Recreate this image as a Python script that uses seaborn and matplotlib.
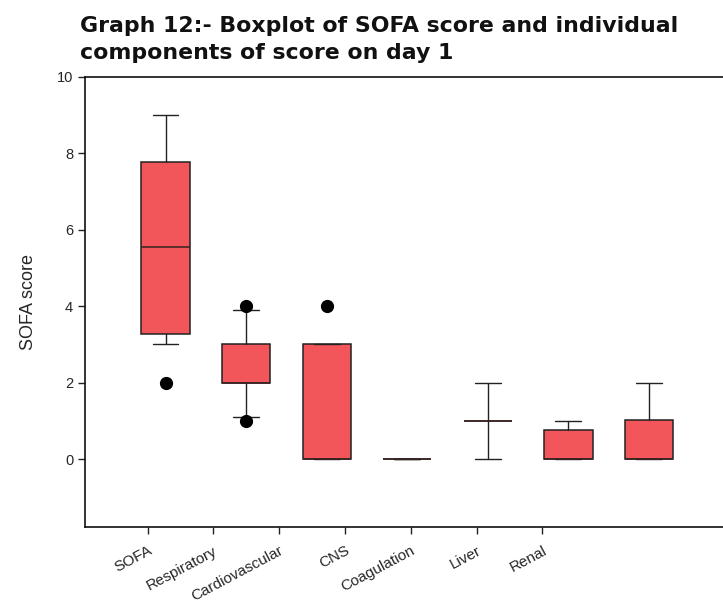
import matplotlib
matplotlib.use("Agg")
import matplotlib.pyplot as plt
import seaborn as sns
import numpy as np

categories = ["SOFA", "Respiratory", "Cardiovascular", "CNS", "Coagulation", "Liver", "Renal"]
q1 = [3.27, 2.0, 0.0, 0.0, 1.0, 0.0, 0.0]
median = [5.55, 2.0, 0.0, 0.0, 1.0, 0.0, 0.0]
q3 = [7.77, 3.0, 3.0, 0.0, 1.0, 0.76, 1.03]
whislo = [3.0, 1.1, 0.0, 0.0, 0.0, 0.0, 0.0]
whishi = [9.0, 3.9, 3.0, 0.0, 2.0, 1.0, 2.0]
fliers = [[2.0], [1.0, 4.0], [4.0], [], [], [], []]

sns.set_style("ticks")
plt.rcParams["font.family"] = ["Liberation Sans", "DejaVu Sans"]

fig = plt.figure(figsize=(7.23, 6.05), dpi=100)
ax = fig.add_axes([85/723, 1-527/605, 1-85/723, (527-77)/605])

stats = []
for i, c in enumerate(categories):
    stats.append(dict(label=c, q1=q1[i], med=median[i], q3=q3[i],
                      whislo=whislo[i], whishi=whishi[i], fliers=fliers[i]))

ax.bxp(stats, positions=np.arange(len(categories)), widths=0.6, patch_artist=True,
       capwidths=0.32,
       boxprops=dict(facecolor="#F2555A", edgecolor="#222222", linewidth=1.1),
       medianprops=dict(color="#3a2220", linewidth=1.1),
       whiskerprops=dict(color="#222222", linewidth=1.0),
       capprops=dict(color="#222222", linewidth=1.0),
       flierprops=dict(marker="o", markerfacecolor="black", markeredgecolor="black",
                       markersize=8.5, linestyle="none"))

ax.set_xlim(-1.0, 6.92)
ax.set_ylim(-1.78, 10)
ax.set_yticks([0, 2, 4, 6, 8, 10])
ax.set_yticklabels(["0", "2", "4", "6", "8", "10"], fontsize=10.5)
tick_pos = [-0.224 + 0.817 * i for i in range(len(categories))]
ax.set_xticks(tick_pos)
ax.set_xticklabels(categories, rotation=28, ha="right", rotation_mode="anchor", fontsize=11)
ax.tick_params(axis="both", direction="out", length=5, width=1, color="#222222")
ax.tick_params(axis="x", pad=7)
ax.set_ylabel("SOFA score", fontsize=13, labelpad=14)

for s in ["left", "bottom", "top"]:
    ax.spines[s].set_color("#111111")
    ax.spines[s].set_linewidth(1.2)
ax.spines["right"].set_visible(False)

fig.text(80/723, 1-16/605, "Graph 12:- Boxplot of SOFA score and individual\ncomponents of score on day 1",
         family=["DejaVu Sans"], fontsize=15.8, fontweight="bold", ha="left", va="top",
         linespacing=1.42, color="#111111")

fig.savefig("out.png", dpi=100)
